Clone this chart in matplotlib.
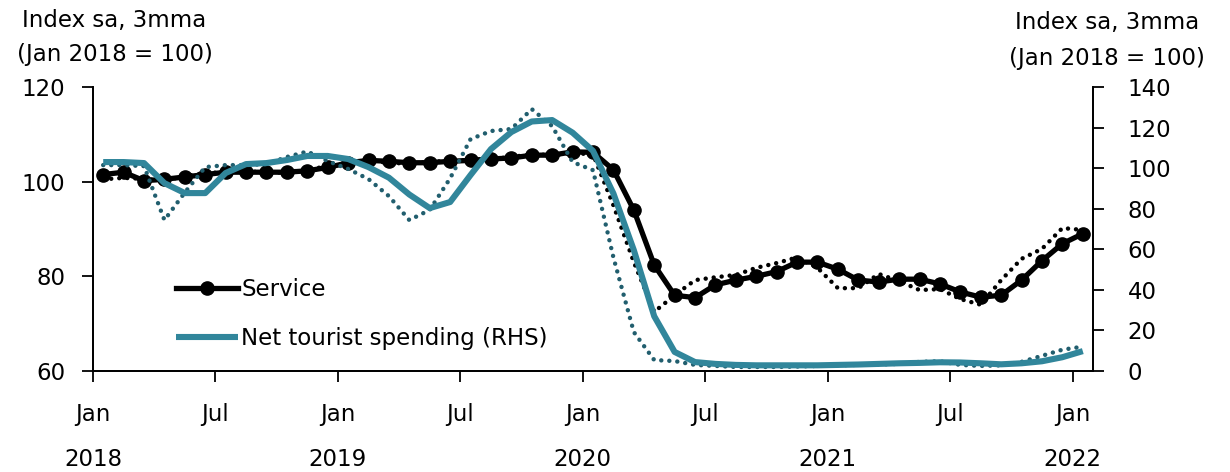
import numpy as np
import matplotlib
matplotlib.use("Agg")
import matplotlib.pyplot as plt

# monthly points Jan 2018 .. Jan 2022 (49 months)
service_3mma = [101.5, 102.0, 100.2, 100.5, 101.0, 101.5, 102.0, 102.0, 102.0, 102.0,
                102.3, 103.0, 104.0, 104.5, 104.3, 104.0, 104.0, 104.3, 104.5, 104.8,
                105.0, 105.6, 105.6, 106.3, 106.2, 102.5, 94.0, 82.4, 76.0, 75.5,
                78.2, 79.2, 80.0, 81.0, 83.0, 83.0, 81.5, 79.2, 78.8, 79.4,
                79.4, 78.4, 76.7, 75.6, 76.0, 79.2, 83.3, 86.9, 89.0]
service_raw = [100.5, 100.8, 100.6, 100.2, 101.2, 101.8, 102.0, 102.3, 101.8, 102.0,
               102.6, 103.2, 104.0, 104.4, 104.0, 103.8, 104.2, 104.4, 104.6, 104.8,
               105.2, 105.8, 105.6, 106.0, 105.8, 95.0, 83.0, 72.5, 76.0, 79.2,
               79.8, 80.3, 81.8, 82.8, 84.0, 81.8, 77.5, 77.5, 80.5, 79.0,
               77.1, 77.3, 75.2, 74.0, 79.2, 83.7, 85.8, 90.2, 89.8]
tourist_3mma = [103.0, 103.0, 102.5, 92.6, 87.7, 87.7, 97.6, 102.0, 102.5, 104.0,
                106.0, 106.0, 104.5, 100.5, 95.3, 87.0, 80.3, 83.3, 96.6, 109.4,
                117.8, 123.0, 123.7, 117.5, 108.5, 87.5, 59.6, 27.0, 9.4, 4.4,
                3.5, 3.0, 2.8, 2.8, 2.8, 2.8, 3.0, 3.2, 3.5, 3.8,
                4.0, 4.3, 4.2, 3.8, 3.3, 3.8, 4.8, 6.8, 9.8]
tourist_raw = [101.5, 101.5, 101.0, 74.4, 88.0, 100.5, 101.5, 101.5, 102.0, 105.5,
               108.2, 103.5, 99.6, 94.6, 86.2, 74.4, 79.4, 95.0, 114.3, 118.3,
               119.3, 129.1, 120.7, 103.0, 99.0, 56.0, 19.2, 5.4, 4.9, 3.0,
               2.5, 2.0, 2.0, 2.0, 2.2, 2.5, 2.8, 3.0, 3.2, 3.5,
               4.5, 4.8, 3.0, 2.5, 2.8, 4.5, 7.5, 10.5, 12.0]

tick_pos = np.arange(0, 49, 6)
tick_labels = ["Jan\n2018", "Jul", "Jan\n2019", "Jul", "Jan\n2020", "Jul",
               "Jan\n2021", "Jul", "Jan\n2022"]

x = np.arange(len(service_3mma)) + 0.5
teal = "#31869B"
dark_teal = "#215E6E"
fs = 16.5
plt.rcParams["font.family"] = ["DejaVu Sans"]

fig = plt.figure(figsize=(12.3, 4.72), dpi=100)
ax = fig.add_axes([93 / 1230, 1 - 371 / 472, 1000 / 1230, 284 / 472])
ax2 = ax.twinx()

dot = (0, (0.01, 1.8))
ax.plot(x, service_raw, color="black", lw=3.2, linestyle=dot, dash_capstyle="round")
ax.plot(x, service_3mma, color="black", lw=3.8, marker="o", markersize=9.5,
        label="Service")
ax2.plot(x, tourist_raw, color=dark_teal, lw=3.2, linestyle=dot, dash_capstyle="round")
ax2.plot(x, tourist_3mma, color=teal, lw=4.4, solid_capstyle="butt",
         label="Net tourist spending (RHS)")

ax.set_xlim(0, 49)
ax.set_ylim(60, 120)
ax.set_yticks([60, 80, 100, 120])
ax2.set_ylim(0, 140)
ax2.set_yticks(np.arange(0, 141, 20))
ax.set_xticks(tick_pos)
ax.set_xticklabels(tick_labels, fontsize=fs, linespacing=2.2, va="top")

for a in (ax, ax2):
    a.spines["top"].set_visible(False)
    for s in a.spines.values():
        s.set_linewidth(1.3)
    a.tick_params(direction="out", length=8, width=1.3, labelsize=fs)
ax.tick_params(axis="y", pad=12)
ax.tick_params(axis="x", pad=15)
ax2.tick_params(axis="y", pad=17)

fig.text(22 / 1230, 1 - 20 / 472, "Index sa, 3mma", fontsize=fs, ha="left", va="center")
fig.text(17 / 1230, 1 - 55 / 472, "(Jan 2018 = 100)", fontsize=fs, ha="left", va="center")
fig.text(1107 / 1230, 1 - 22 / 472, "Index sa, 3mma", fontsize=fs, ha="center", va="center")
fig.text(1107 / 1230, 1 - 58 / 472, "(Jan 2018 = 100)", fontsize=fs, ha="center", va="center")

h1, l1 = ax.get_legend_handles_labels()
h2, l2 = ax2.get_legend_handles_labels()
ax2.legend(h1 + h2, l1 + l2, loc="upper left", bbox_to_anchor=(0.074, 0.36),
           frameon=False, fontsize=fs, handlelength=2.7, handletextpad=0.15,
           labelspacing=1.15, numpoints=1, borderaxespad=0)

fig.savefig("out.png", dpi=100)
